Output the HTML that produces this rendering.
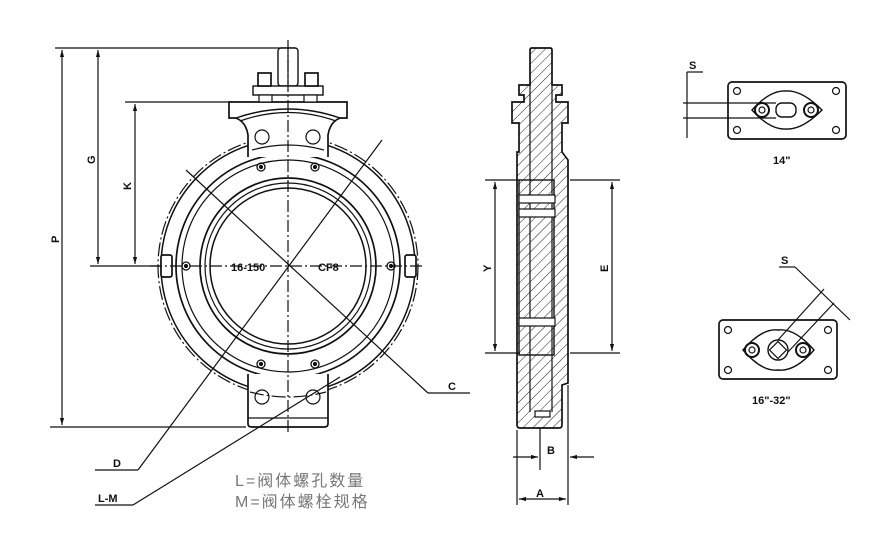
<!DOCTYPE html>
<html><head><meta charset="utf-8"><style>
html,body{margin:0;padding:0;background:#fff;}
svg{display:block}
text{font-family:"Liberation Sans","Noto Sans CJK SC",sans-serif;font-weight:bold;fill:#111}
</style></head><body>
<svg width="879" height="540" viewBox="0 0 879 540" xmlns="http://www.w3.org/2000/svg">
<defs>
<pattern id="h" width="7" height="7" patternUnits="userSpaceOnUse" patternTransform="rotate(45)">
<line x1="0" y1="0" x2="0" y2="7" stroke="#222" stroke-width="1"/></pattern>
<marker id="a" viewBox="0 0 10 10" refX="10" refY="5" markerWidth="6" markerHeight="6" orient="auto-start-reverse"><path d="M0,2 L10,5 L0,8z" fill="#111"/></marker>
</defs>
<g fill="none" stroke="#111" stroke-width="1.2">
<line x1="55" y1="48" x2="295" y2="48"/>
<line x1="125" y1="102" x2="232" y2="102"/>
<line x1="90" y1="266" x2="160" y2="266"/>
<line x1="50" y1="427" x2="246" y2="427"/>
<line x1="62" y1="50" x2="62" y2="425" marker-start="url(#a)" marker-end="url(#a)"/>
<line x1="98" y1="50" x2="98" y2="264" marker-start="url(#a)" marker-end="url(#a)"/>
<line x1="135" y1="104" x2="135" y2="264" marker-start="url(#a)" marker-end="url(#a)"/>
<circle cx="288" cy="266" r="130" stroke-dasharray="14 3 2 3"/>
<circle cx="288" cy="266" r="127" stroke-width="1.5"/>
<circle cx="288" cy="266" r="112" stroke-width="1.7"/>
<circle cx="288" cy="266" r="106"/>
<circle cx="288" cy="266" r="88" stroke-width="1.7"/>
<circle cx="288" cy="266" r="83"/>
<circle cx="288" cy="266" r="78" stroke-width="1.5"/>
<path d="M248 157 L248 135 Q246 122 236 118 L229 118 L229 102 L347 102 L347 118 L340 118 Q330 122 328 135 L328 157" fill="#fff" stroke-width="1.7"/>
<path d="M236 118 Q288 100 340 118" stroke-width="1.4"/>
<path d="M240 121 Q288 104 336 121"/>
<circle cx="262" cy="137" r="7" fill="#fff"/><circle cx="313" cy="137" r="7" fill="#fff"/>
<path d="M252 150 Q288 140 324 150"/>
<rect x="278" y="48" width="20" height="38" rx="3" fill="#fff" stroke-width="1.4"/>
<line x1="288" y1="52" x2="288" y2="84"/>
<rect x="253" y="86" width="70" height="9" fill="#fff" stroke-width="1.4"/>
<rect x="258" y="73" width="13" height="13" fill="#fff" stroke-width="1.7"/>
<rect x="305" y="73" width="13" height="13" fill="#fff" stroke-width="1.7"/>
<rect x="259" y="95" width="13" height="7" fill="#fff"/>
<rect x="304" y="95" width="13" height="7" fill="#fff"/>
<path d="M248 374 L248 424 Q248 427 252 427 L324 427 Q328 427 328 424 L328 374" fill="#fff" stroke-width="1.7"/>
<line x1="248" y1="418" x2="328" y2="418"/>
<circle cx="262" cy="397" r="7"/><circle cx="313" cy="397" r="7"/>
<path d="M250 392 Q288 402 326 392" stroke-dasharray="14 3 2 3"/>
<rect x="161" y="255" width="11" height="22" rx="2" fill="#fff" stroke-width="1.7"/>
<rect x="405" y="255" width="11" height="22" rx="2" fill="#fff" stroke-width="1.7"/>
<g stroke-width="1.3">
<circle cx="261" cy="167" r="4"/><circle cx="315" cy="167" r="4"/>
<circle cx="186" cy="266" r="4"/><circle cx="391" cy="266" r="4"/>
<circle cx="261" cy="364" r="4"/><circle cx="315" cy="364" r="4"/>
</g>
<g fill="#111"><circle cx="261" cy="167" r="1.5"/><circle cx="315" cy="167" r="1.5"/><circle cx="186" cy="266" r="1.5"/><circle cx="391" cy="266" r="1.5"/><circle cx="261" cy="364" r="1.5"/><circle cx="315" cy="364" r="1.5"/></g>
<line x1="150" y1="266" x2="425" y2="266" stroke-dasharray="12 3 2 3"/>
<line x1="288" y1="40" x2="288" y2="435" stroke-dasharray="12 3 2 3"/>
<line x1="186" y1="170" x2="428" y2="393"/>
<line x1="428" y1="393" x2="470" y2="393"/>
<line x1="382" y1="140" x2="138" y2="470"/>
<line x1="95" y1="470" x2="138" y2="470"/>
<line x1="340" y1="377" x2="133" y2="505"/>
<line x1="95" y1="505" x2="133" y2="505"/>
<path d="M517 152 L517 425 Q517 428 520 428 L559 428 Q562 428 562 425 L562 385 L568 383 L568 160 L562 152 L562 123 L568 123 L568 102 L556 102 L556 95 L562 95 L562 85 L552 85 L552 50 Q552 48 550 48 L532 48 Q530 48 530 50 L530 85 L519 85 L519 95 L524 95 L524 102 L512 102 L512 123 L519 123 L519 152 Z" fill="url(#h)" stroke-width="1.7"/>
<line x1="530" y1="85" x2="530" y2="412"/><line x1="552" y1="85" x2="552" y2="412"/>
<rect x="519" y="180" width="35" height="175" fill="none" stroke-width="1.4"/>
<rect x="519" y="195" width="36" height="8" fill="#fff"/>
<rect x="519" y="209" width="36" height="8" fill="#fff"/>
<rect x="519" y="318" width="36" height="8" fill="#fff"/>
<rect x="535" y="411" width="15" height="6" fill="#fff"/>
<line x1="485" y1="180" x2="520" y2="180"/><line x1="485" y1="353" x2="520" y2="353"/>
<line x1="570" y1="180" x2="620" y2="180"/><line x1="570" y1="353" x2="620" y2="353"/>
<line x1="495" y1="182" x2="495" y2="351" marker-start="url(#a)" marker-end="url(#a)"/>
<line x1="612" y1="182" x2="612" y2="351" marker-start="url(#a)" marker-end="url(#a)"/>
<line x1="517" y1="430" x2="517" y2="505"/><line x1="568" y1="385" x2="568" y2="505"/>
<line x1="540" y1="428" x2="540" y2="470"/>
<line x1="513" y1="457" x2="538" y2="457" marker-end="url(#a)"/>
<line x1="594" y1="457" x2="570" y2="457" marker-end="url(#a)"/>
<line x1="519" y1="499" x2="566" y2="499" marker-start="url(#a)" marker-end="url(#a)"/>
<rect x="728" y="82" width="118" height="57" rx="4" stroke-width="1.7"/>
<circle cx="737" cy="91" r="3.5"/><circle cx="836" cy="91" r="3.5"/><circle cx="737" cy="130" r="3.5"/><circle cx="836" cy="130" r="3.5"/>
<path d="M752 110 Q770 90 786 91 Q802 90 822 110 Q802 130 786 129 Q770 130 752 110Z" stroke-width="1.4"/>
<circle cx="762" cy="110" r="7" stroke-width="2"/><circle cx="762" cy="110" r="3"/>
<circle cx="811" cy="110" r="7" stroke-width="2"/><circle cx="811" cy="110" r="3"/>
<rect x="776" y="103" width="20" height="14" rx="6" stroke-width="1.4"/>
<line x1="683" y1="103" x2="776" y2="103"/><line x1="683" y1="118" x2="776" y2="118"/>
<line x1="687" y1="72" x2="687" y2="138"/><line x1="687" y1="72" x2="703" y2="72"/>
<rect x="719" y="320" width="118" height="59" rx="4" stroke-width="1.7"/>
<circle cx="728" cy="330" r="3.5"/><circle cx="828" cy="330" r="3.5"/><circle cx="728" cy="370" r="3.5"/><circle cx="828" cy="370" r="3.5"/>
<path d="M743 350 Q762 328 778 330 Q795 328 814 350 Q795 372 778 370 Q762 372 743 350Z" stroke-width="1.4"/>
<circle cx="752" cy="350" r="7" stroke-width="2"/><circle cx="752" cy="350" r="3"/>
<circle cx="803" cy="350" r="7" stroke-width="2"/><circle cx="803" cy="350" r="3"/>
<circle cx="778" cy="350" r="10" stroke-width="1.4"/>
<rect x="772" y="344" width="12" height="12" transform="rotate(45 778 350)"/>
<line x1="778" y1="340" x2="824" y2="289"/><line x1="788" y1="352" x2="834" y2="303"/>
<line x1="779" y1="267" x2="795" y2="267"/><line x1="795" y1="267" x2="850" y2="320"/>
</g>
<g font-size="11">
<text x="231" y="271">16-150</text><text x="318" y="271">CF8</text>
<text x="448" y="390">C</text>
<text x="113" y="467">D</text>
<text x="98" y="502">L-M</text>
<text x="547" y="454">B</text>
<text x="536" y="497">A</text>
<text x="773" y="164">14"</text>
<text x="752" y="404">16"-32"</text>
<text x="689" y="69">S</text>
<text x="781" y="264">S</text>
<text transform="translate(59,243) rotate(-90)">P</text>
<text transform="translate(95,164) rotate(-90)">G</text>
<text transform="translate(131,190) rotate(-90)">K</text>
<text transform="translate(491,272) rotate(-90)">Y</text>
<text transform="translate(608,272) rotate(-90)">E</text>
</g>
<text x="235" y="486" font-size="16" letter-spacing="2" style="font-weight:normal;fill:#777">L=阀体螺孔数量</text>
<text x="235" y="507" font-size="16" letter-spacing="2" style="font-weight:normal;fill:#777">M=阀体螺栓规格</text>
</svg>
</body></html>
